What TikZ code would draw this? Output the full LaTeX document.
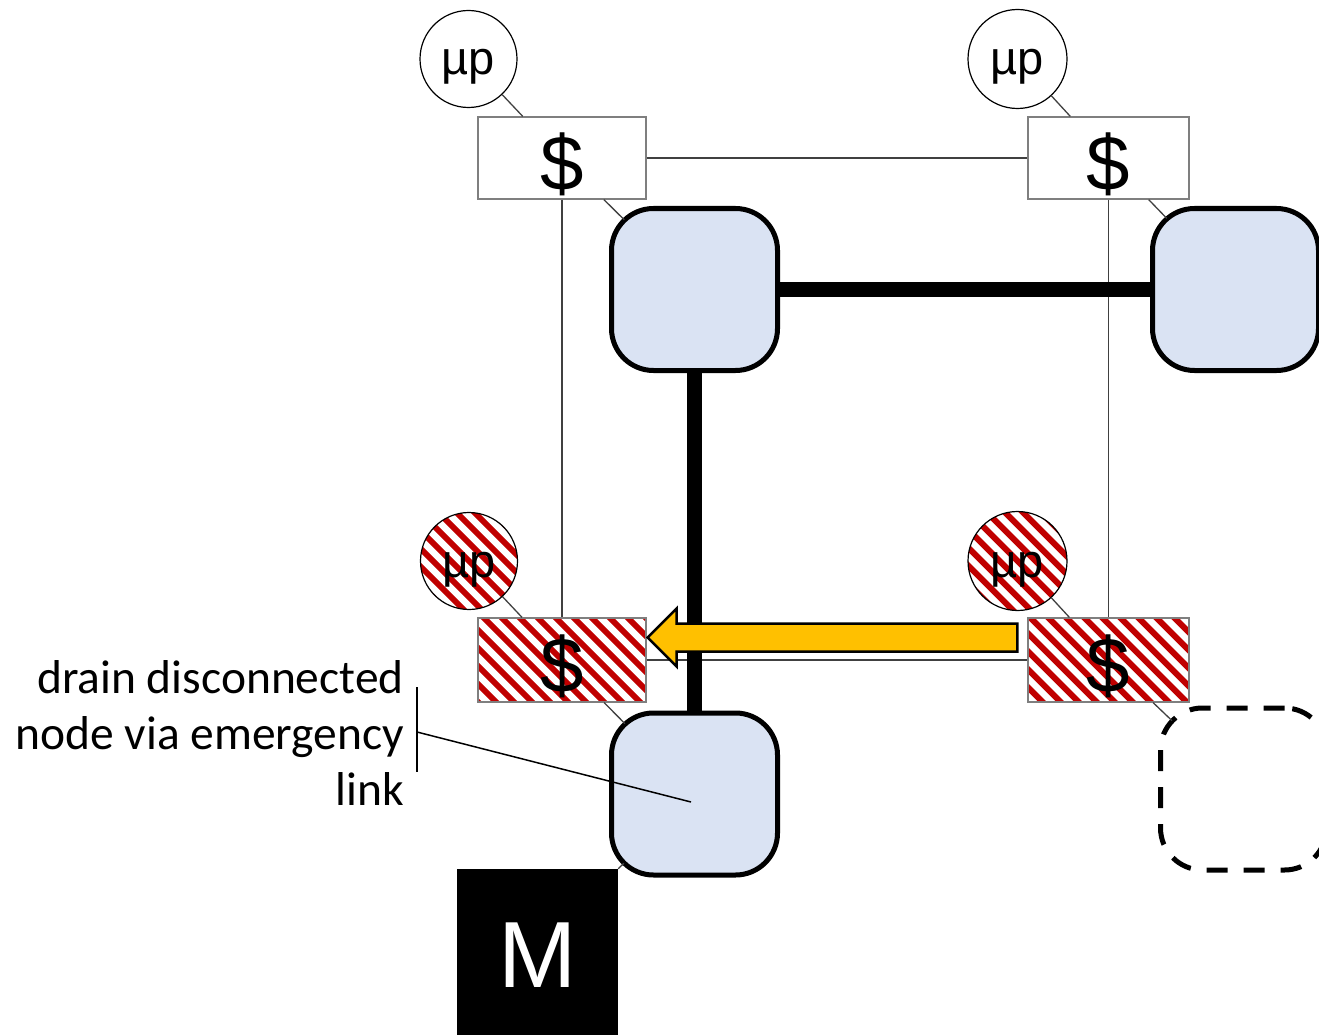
\documentclass[tikz,border=0pt]{standalone}
\usepackage{fontspec}
\setmainfont{Liberation Sans}
\newfontfamily\calib{Carlito}
\usetikzlibrary{calc}

\definecolor{routerfill}{HTML}{DAE3F3}
\definecolor{hatchred}{HTML}{C00000}
\definecolor{arrowfill}{HTML}{FFC000}
\definecolor{wirecol}{HTML}{404040}
\definecolor{cacheedge}{HTML}{7F7F7F}

\begin{document}
\begin{tikzpicture}[x=1pt,y=-1pt,
  wire/.style={draw=wirecol, line width=1.3pt},
  tap/.style={wire, shorten >=99pt},
  trunk/.style={draw=black, line width=15pt},
  proc/.style={circle, draw=black, line width=1.2pt, fill=white,
    minimum size=97pt, inner sep=0pt,
    font=\fontsize{47}{47}\selectfont, text height=32pt, text depth=0pt},
  cache/.style={rectangle, draw=cacheedge, line width=1.2pt, fill=white,
    minimum height=82pt, inner sep=0pt,
    font=\fontsize{78}{78}\selectfont, text height=64pt, text depth=0pt},
  router/.style={rectangle, draw=black, line width=5pt, fill=routerfill,
    rounded corners=42pt, minimum width=166pt, minimum height=162pt, inner sep=0pt},
  ghost/.style={router, fill=none, dash pattern=on 21pt off 16pt},
  memory/.style={rectangle, fill=black, text=white, minimum width=161pt,
    minimum height=200pt, inner sep=0pt,
    font=\fontsize{94}{94}\selectfont, text height=36pt, text depth=0pt},
  hatched/.style={path picture={
    \foreach \k in {-11,...,11}{
      \draw[hatchred, line width=6pt]
        ($(path picture bounding box.center)+(\k*18-140,-140)$) -- ++(280,280);
    }}},
  callout/.style={draw=black, line width=1.5pt},
  note/.style={font=\calib\fontsize{47.5}{56}\selectfont, align=right, inner sep=0pt}
]
\useasboundingbox (0,0) rectangle (1319,1035);
\clip (0,0) rectangle (1319,1035);

% routers
\node[router] (r1) at (694.5,289.5) {};
\node[router] (r2) at (1235.5,289.5) {};
\node[router] (r3) at (694.5,794) {};
\node[ghost]  (r4) at (1243.5,789) {};

% memory controller
\node[memory] (mem) at (537.5,969) {M};

% caches
\node[cache, minimum width=168pt] (c1) at (562,158) {\$};
\node[cache, minimum width=161pt] (c2) at (1108.5,158) {\$};
\node[cache, hatched, minimum width=168pt, minimum height=84pt] (c3) at (562,660) {\$};
\node[cache, hatched, minimum width=161pt, minimum height=84pt] (c4) at (1108.5,660) {\$};

% processors
\node[proc] (p1) at (468.5,59) {µp};
\node[proc, minimum size=99pt] (p2) at (1017.5,59) {µp};
\node[proc, hatched] (p3) at (469,561) {µp};
\node[proc, hatched, minimum size=99pt] (p4) at (1017.5,561) {µp};

% thin interconnect
\draw[wire] (p1) -- (c1);
\draw[wire] (p2) -- (c2);
\draw[wire] (p3) -- (c3);
\draw[wire] (p4) -- (c4);
\draw[wire] (c1.east) -- (c2.west);
\draw[wire] (c3.east) -- (c4.west);
\draw[wire] (c1.south) -- (c3.north);
\draw[wire] (c2.south) -- (c4.north);
\draw[tap] (c1) -- (r1.center);
\draw[tap] (c2) -- (r2.center);
\draw[tap] (c3) -- (r3.center);
\draw[tap] (c4) -- (r4.center);
\draw[tap] (mem.north east) -- (r3.center);

% router links
\draw[trunk] (r1.east) -- (r2.west);
\draw[trunk] (r1.south) -- (r3.north);

% emergency drain arrow
\coordinate (tip) at ($(c3.east)+(1,-22.5)$);
\coordinate (tail) at ($(c4.west)+(-10,-22.5)$);
\draw[line width=2.5pt, fill=arrowfill, line join=miter]
  ($(tail)+(0,-14)$) -- ($(tip)+(29,-14)$) -- ($(tip)+(29,-29)$) -- (tip)
  -- ($(tip)+(29,29)$) -- ($(tip)+(29,14)$) -- ($(tail)+(0,14)$) -- cycle;

% annotation
\node[note, anchor=base east] (lbl) at (404,805)
  {drain disconnected\\node via emergency\\link};
\coordinate (bt) at (417,687);
\coordinate (bb) at (417,772);
\coordinate (bm) at (417,732);
\coordinate (aim) at (691,802);
\draw[callout] (bt) -- (bb);
\draw[callout] (bm) -- (aim);
\end{tikzpicture}
\end{document}
